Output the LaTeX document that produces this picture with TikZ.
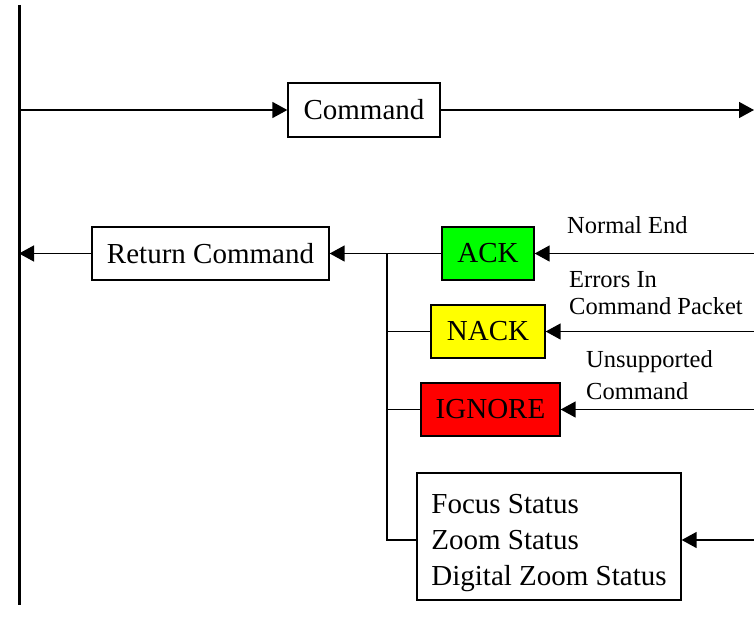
\documentclass[tikz,border=0pt]{standalone}
\usepackage{fontspec}
\setmainfont{Liberation Serif}
\usetikzlibrary{arrows.meta}
\definecolor{ackgreen}{RGB}{0,255,0}
\definecolor{nackyellow}{RGB}{255,255,0}
\definecolor{ignred}{RGB}{255,0,0}
\begin{document}
\begin{tikzpicture}[x=1pt,y=-1pt,
  box/.style={draw,line width=1.3pt,inner sep=0pt,font=\fontsize{29}{36}\selectfont},
  lbl/.style={anchor=west,inner sep=0pt,align=left},
  conn/.style={line width=1.4pt},
  arr/.style={conn,-{Triangle[length=15pt,width=16pt]}}]
\useasboundingbox (0,0) rectangle (754,626);
% main vertical line
\coordinate (top) at (19,5);
\coordinate (bot) at (19,605);
\draw[line width=3pt] (top) -- (bot);
% nodes
\node[box,minimum width=152pt,minimum height=54pt] (cmd) at (364,110) {Command};
\node[box,minimum width=237pt,minimum height=53pt] (ret) at (210.5,253.5) {Return Command};
\node[box,fill=ackgreen,minimum width=92pt,minimum height=53pt] (ack) at (488,253.5) {ACK};
\node[box,fill=nackyellow,minimum width=114pt,minimum height=53pt] (nack) at (488,331.5) {NACK};
\node[box,fill=ignred,minimum width=139pt,minimum height=53pt] (ign) at (490.5,409.5) {IGNORE};
\node[box,minimum width=264pt,minimum height=127pt] (focus) at (549,536.5) {\raisebox{-6pt}[\height][\depth]{\begin{tabular}{@{}l@{}}Focus Status\\Zoom Status\\Digital Zoom Status\end{tabular}}};
% labels
\node[lbl,font=\fontsize{24.5}{28}\selectfont] (lne) at (567,225) {Normal End};
\node[lbl,font=\fontsize{24.5}{27}\selectfont] (lei) at (569,293.5) {Errors In\\Command Packet};
\node[lbl,font=\fontsize{24.5}{32}\selectfont] (lus) at (586,375) {Unsupported\\Command};
% coordinates
\coordinate (c1) at (19,110);
\coordinate (r1) at (754,110);
\coordinate (c2) at (19,253.5);
\coordinate (r2) at (754,253.5);
\coordinate (r3) at (754,331.5);
\coordinate (r4) at (754,409.5);
\coordinate (r5) at (754,540);
\coordinate (j1) at (387,253.5);
\coordinate (j4) at (387,540);
\coordinate (fz) at (417,540);
% connectors
\draw[arr] (c1) -- (cmd.west);
\draw[arr] (cmd.east) -- (r1);
\draw[arr] (ret.west) -- (c2);
\draw[arr] (ack.west) -- (ret.east);
\draw[arr] (r2) -- (ack.east);
\draw[arr] (r3) -- (nack.east);
\draw[arr] (r4) -- (ign.east);
\draw[arr] (r5) -- (focus.east |- r5);
\draw[conn] (j1) -- (j4) -- (fz);
\draw[conn] (j1 |- nack.west) -- (nack.west);
\draw[conn] (j1 |- ign.west) -- (ign.west);
\end{tikzpicture}
\end{document}
